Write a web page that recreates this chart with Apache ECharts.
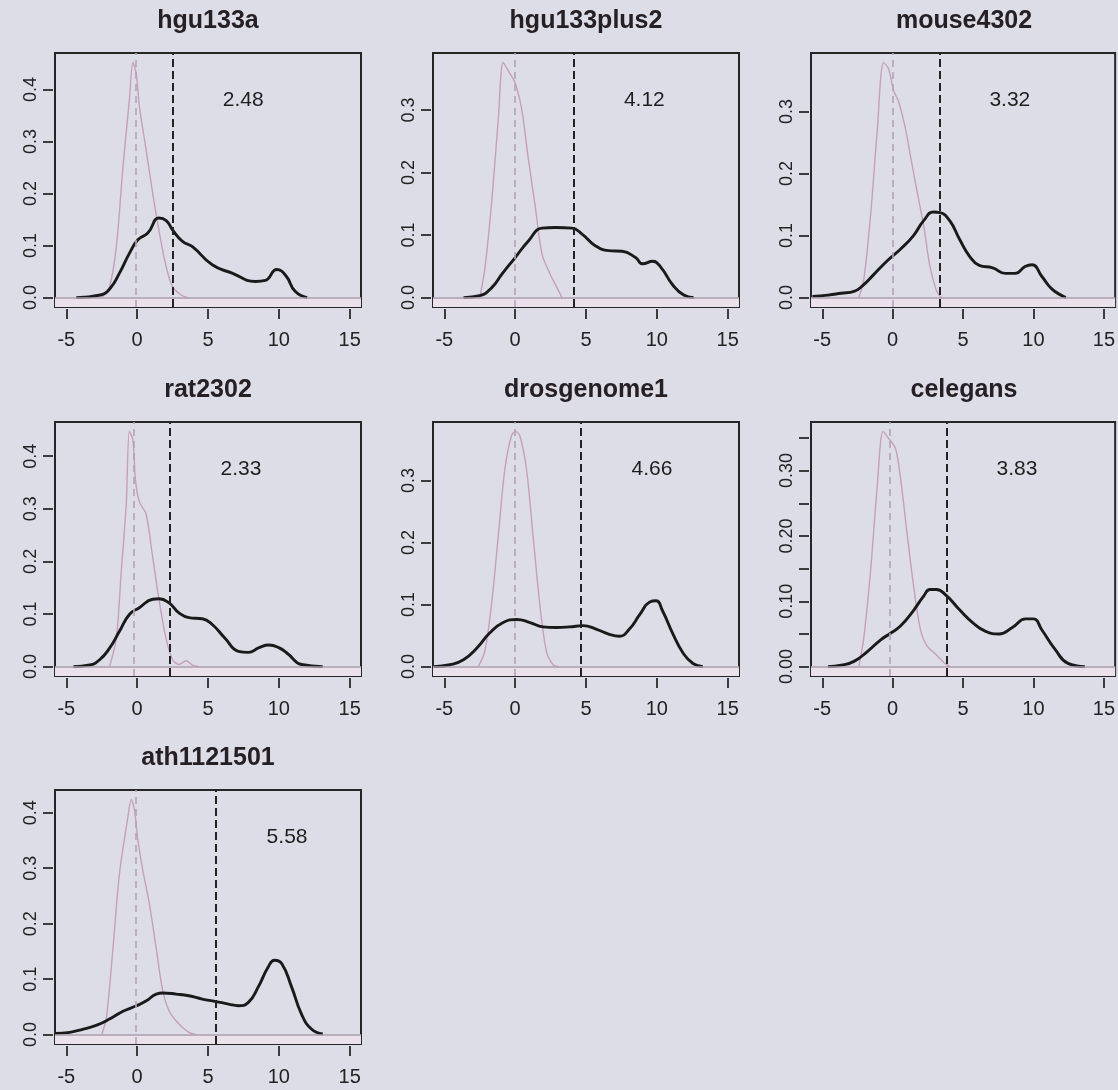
<!DOCTYPE html>
<html>
<head>
<meta charset="utf-8">
<title>Intensity densities by array type</title>
<script src="https://cdn.jsdelivr.net/npm/echarts@6/dist/echarts.min.js"></script>
<style>
  html, body { margin: 0; padding: 0; background: #dddde7; }
  #chart { width: 1118px; height: 1090px; }
</style>
</head>
<body>
<div id="chart"></div>
<script>
// ---- data ----------------------------------------------------------------
const arrayNames = ['hgu133a', 'hgu133plus2', 'mouse4302', 'rat2302', 'drosgenome1', 'celegans', 'ath1121501'];
const cutoffs = [2.48, 4.12, 3.32, 2.33, 4.66, 3.83, 5.58];
const backgroundModes = [-0.1, -0.05, 0.0, -0.25, 0.0, -0.23, -0.12];
const xTicks = [-5, 0, 5, 10, 15];

const yTicksHgu133a = [0, 0.1, 0.2, 0.3, 0.4];
const yTicksHgu133plus2 = [0, 0.1, 0.2, 0.3];
const yTicksMouse4302 = [0, 0.1, 0.2, 0.3];
const yTicksRat2302 = [0, 0.1, 0.2, 0.3, 0.4];
const yTicksDrosgenome1 = [0, 0.1, 0.2, 0.3];
const yTicksCelegans = [0, 0.05, 0.1, 0.15, 0.2, 0.25, 0.3, 0.35];
const yLabelsCelegans = [0, 0.1, 0.2, 0.3];
const yTicksAth1121501 = [0, 0.1, 0.2, 0.3, 0.4];

// signal densities (black)
const signalHgu133a = [[-4.3,0],[-2.6,0.005],[-1.9,0.018],[-1.25,0.047],[-0.55,0.085],[0.05,0.111],[0.75,0.124],[1.55,0.153],[2.05,0.148],[2.5,0.13],[3.2,0.108],[3.9,0.098],[5.3,0.063],[6.7,0.047],[8.35,0.031],[9.05,0.033],[9.85,0.054],[10.5,0.042],[11.15,0.012],[12.0,0]];
const signalHgu133plus2 = [[-3.65,0],[-2.5,0.003],[-1.65,0.016],[-0.95,0.037],[0,0.064],[0.95,0.091],[1.9,0.111],[2.85,0.112],[4.0,0.111],[4.7,0.102],[5.65,0.083],[6.6,0.075],[7.55,0.074],[8.5,0.064],[9.0,0.054],[9.7,0.058],[10.3,0.048],[11.1,0.021],[11.9,0.004],[12.6,0]];
const signalMouse4302 = [[-5.7,0.002],[-4.6,0.004],[-3.65,0.007],[-2.75,0.01],[-2.05,0.021],[-1.35,0.037],[-0.4,0.059],[0.55,0.078],[1.45,0.099],[2.2,0.124],[2.9,0.138],[3.35,0.137],[4.05,0.124],[4.75,0.094],[5.45,0.067],[6.15,0.052],[7.1,0.048],[8.0,0.039],[8.7,0.039],[9.4,0.05],[9.9,0.053],[10.6,0.034],[11.3,0.014],[12.1,0.002],[12.3,0]];
const signalRat2302 = [[-4.5,0],[-3.35,0.003],[-2.65,0.013],[-1.95,0.035],[-1.25,0.067],[-0.55,0.099],[0.15,0.112],[1.1,0.128],[1.55,0.129],[2.25,0.121],[2.95,0.102],[3.65,0.093],[4.6,0.091],[5.3,0.08],[6.2,0.054],[7.15,0.029],[7.85,0.027],[8.6,0.036],[9.3,0.041],[10.0,0.036],[10.65,0.024],[11.6,0.004],[13.1,0]];
const signalDrosgenome1 = [[-5.75,0],[-4.6,0.003],[-3.65,0.011],[-2.7,0.03],[-1.8,0.054],[-0.85,0.071],[0.1,0.076],[1.05,0.071],[1.95,0.064],[2.9,0.063],[3.85,0.064],[4.8,0.066],[5.75,0.06],[6.65,0.052],[7.35,0.049],[8.05,0.06],[8.8,0.084],[9.5,0.104],[9.95,0.106],[10.4,0.09],[11.15,0.052],[11.85,0.022],[12.55,0.005],[13.25,0]];
const signalCelegans = [[-4.6,0],[-3.65,0.002],[-2.75,0.008],[-1.8,0.023],[-0.85,0.041],[-0.15,0.051],[0.55,0.062],[1.45,0.085],[2.2,0.108],[2.65,0.118],[3.1,0.118],[3.8,0.109],[4.75,0.087],[5.7,0.067],[6.6,0.054],[7.55,0.05],[8.5,0.06],[9.45,0.073],[10.0,0.073],[10.6,0.056],[11.55,0.026],[12.45,0.005],[13.65,0]];
const signalAth1121501 = [[-5.8,0.002],[-4.75,0.004],[-3.8,0.01],[-2.85,0.017],[-1.95,0.028],[-1.0,0.042],[-0.05,0.052],[0.65,0.061],[1.35,0.073],[1.8,0.075],[2.75,0.073],[3.65,0.07],[4.6,0.064],[5.5,0.06],[6.45,0.055],[7.15,0.052],[7.85,0.058],[8.55,0.086],[9.25,0.122],[9.7,0.134],[10.2,0.128],[10.9,0.086],[11.6,0.037],[12.3,0.01],[13.1,0.001]];

// background densities (pink)
const bgHgu133a = [[-2.5,0],[-1.95,0.021],[-1.47,0.098],[-1.0,0.252],[-0.55,0.38],[-0.3,0.452],[-0.07,0.431],[0.16,0.367],[0.63,0.284],[1.1,0.2],[1.57,0.124],[2.04,0.06],[2.5,0.021],[3.1,0.005],[3.55,0]];
const bgHgu133plus2 = [[-2.5,0],[-2.13,0.048],[-1.65,0.155],[-1.18,0.289],[-0.85,0.376],[-0.47,0.362],[0,0.343],[0.47,0.3],[0.94,0.22],[1.42,0.145],[1.89,0.07],[2.48,0.037],[2.95,0.016],[3.3,0]];
const bgMouse4302 = [[-2.4,0],[-2.05,0.029],[-1.57,0.132],[-1.1,0.268],[-0.65,0.379],[-0.28,0.368],[0.07,0.333],[0.42,0.316],[0.9,0.273],[1.25,0.23],[1.7,0.175],[2.2,0.116],[2.65,0.05],[3.1,0.012],[3.45,0]];
const bgRat2302 = [[-1.95,0],[-1.47,0.054],[-1.12,0.182],[-0.77,0.309],[-0.55,0.447],[-0.3,0.431],[-0.12,0.354],[0.16,0.313],[0.63,0.29],[1.1,0.207],[1.56,0.124],[2.03,0.054],[2.5,0.013],[2.95,0.004],[3.45,0.011],[3.9,0.003],[4.35,0]];
const bgDrosgenome1 = [[-2.6,0],[-2.15,0.024],[-1.67,0.1],[-1.2,0.209],[-0.73,0.318],[-0.26,0.372],[0.02,0.379],[0.33,0.372],[0.8,0.318],[1.27,0.209],[1.74,0.1],[2.21,0.024],[2.68,0.003],[3.05,0]];
const bgCelegans = [[-2.4,0],[-2.05,0.044],[-1.57,0.146],[-1.1,0.275],[-0.68,0.36],[-0.28,0.349],[0.2,0.334],[0.55,0.29],[1.0,0.208],[1.47,0.126],[1.95,0.059],[2.4,0.033],[3.1,0.018],[3.7,0.005],[4.05,0]];
const bgAth1121501 = [[-2.5,0],[-2.17,0.031],[-1.7,0.158],[-1.25,0.29],[-0.65,0.393],[-0.42,0.424],[-0.19,0.405],[0.05,0.351],[0.4,0.296],[0.86,0.236],[1.33,0.158],[1.8,0.08],[2.25,0.043],[2.95,0.019],[3.65,0.004],[4.15,0]];

const signalSets = [signalHgu133a, signalHgu133plus2, signalMouse4302, signalRat2302, signalDrosgenome1, signalCelegans, signalAth1121501];
const bgSets = [bgHgu133a, bgHgu133plus2, bgMouse4302, bgRat2302, bgDrosgenome1, bgCelegans, bgAth1121501];
const yTickSets = [yTicksHgu133a, yTicksHgu133plus2, yTicksMouse4302, yTicksRat2302, yTicksDrosgenome1, yTicksCelegans, yTicksAth1121501];
const yLabelSets = [yTicksHgu133a, yTicksHgu133plus2, yTicksMouse4302, yTicksRat2302, yTicksDrosgenome1, yLabelsCelegans, yTicksAth1121501];
const yDigits = [1, 1, 1, 1, 1, 2, 1];

// ---- layout --------------------------------------------------------------
const FONT = "'Liberation Sans', Arial, Helvetica, sans-serif";
const colLeft = [55, 433, 811];
const rowTop = [53, 422, 790];
const boxW = 306;
const boxH = 254;
const X_MIN = -5.8, X_MAX = 15.8;

const grids = [], xAxes = [], yAxes = [], titles = [], series = [];

arrayNames.forEach((name, i) => {
  const col = i % 3, row = Math.floor(i / 3);
  const left = colLeft[col], top = rowTop[row];
  const sig = signalSets[i], bg = bgSets[i];
  const peak = Math.max(...sig.map(p => p[1]), ...bg.map(p => p[1]));
  const yMin = -0.04 * peak, yMax = 1.04 * peak;

  grids.push({
    left: left, top: top, width: boxW, height: boxH,
    show: true, borderColor: '#262626', borderWidth: 2,
    backgroundColor: 'transparent', containLabel: false
  });

  titles.push({
    text: name,
    left: left + boxW / 2, top: top - 44,
    textAlign: 'center', padding: 0,
    textStyle: { fontFamily: FONT, fontSize: 25, fontWeight: 'bold', color: '#262024' }
  });

  xAxes.push({
    type: 'value', gridIndex: i, min: X_MIN, max: X_MAX, offset: 2, position: 'bottom',
    axisLine: { show: false, onZero: false },
    splitLine: { show: false },
    axisTick: { show: true, length: 10, customValues: xTicks, lineStyle: { color: '#2a2a2a', width: 1.8 } },
    axisLabel: { show: true, customValues: xTicks, margin: 21, fontFamily: FONT, fontSize: 20, color: '#222222' }
  });

  yAxes.push({
    type: 'value', gridIndex: i, min: yMin, max: yMax, offset: 2, position: 'left',
    axisLine: { show: false, onZero: false },
    splitLine: { show: false },
    axisTick: { show: true, length: 10, customValues: yTickSets[i], lineStyle: { color: '#2a2a2a', width: 1.8 } },
    axisLabel: {
      show: true, customValues: yLabelSets[i], rotate: 90, margin: 13,
      fontFamily: FONT, fontSize: 18, color: '#222222',
      formatter: v => Number(v).toFixed(yDigits[i])
    }
  });

  // light band under the zero line and the zero line itself
  series.push({
    type: 'line', xAxisIndex: i, yAxisIndex: i, data: [], silent: true,
    markArea: {
      silent: true,
      itemStyle: { color: '#ebe1ea' },
      data: [[{ yAxis: yMin }, { yAxis: 0 }]]
    },
    markLine: {
      silent: true, symbol: 'none', label: { show: false },
      lineStyle: { color: '#ac9eae', width: 1.5, type: 'solid' },
      data: [{ yAxis: 0 }]
    }
  });

  // background density with its mode marker
  series.push({
    type: 'line', xAxisIndex: i, yAxisIndex: i, data: bg,
    smooth: 0.3, showSymbol: false, silent: true,
    lineStyle: { color: '#c69fbb', width: 1.4 },
    markLine: {
      silent: true, symbol: 'none', label: { show: false },
      lineStyle: { color: '#b4a2b8', width: 1.6, type: [7, 5] },
      data: [{ xAxis: backgroundModes[i] }]
    }
  });

  // signal density with cutoff marker
  series.push({
    type: 'line', xAxisIndex: i, yAxisIndex: i, data: sig,
    smooth: 0.5, showSymbol: false, silent: true,
    lineStyle: { color: '#1a1a1a', width: 2.9 },
    markLine: {
      silent: true, symbol: 'none', label: { show: false },
      lineStyle: { color: '#222222', width: 2, type: [8, 4] },
      data: [{ xAxis: cutoffs[i] }]
    }
  });

  // cutoff value text
  series.push({
    type: 'scatter', xAxisIndex: i, yAxisIndex: i, silent: true,
    symbolSize: 0,
    itemStyle: { opacity: 1 },
    data: [[cutoffs[i] + 5, 0.84 * peak]],
    label: {
      show: true, position: 'inside', opacity: 1,
      formatter: cutoffs[i].toFixed(2),
      fontFamily: FONT, fontSize: 21, color: '#1e1e1e'
    }
  });
});

const chart = echarts.init(document.getElementById('chart'), null, { renderer: 'canvas' });
chart.setOption({
  backgroundColor: '#dddde7',
  animation: false,
  title: titles,
  grid: grids,
  xAxis: xAxes,
  yAxis: yAxes,
  series: series
});
</script>
</body>
</html>
